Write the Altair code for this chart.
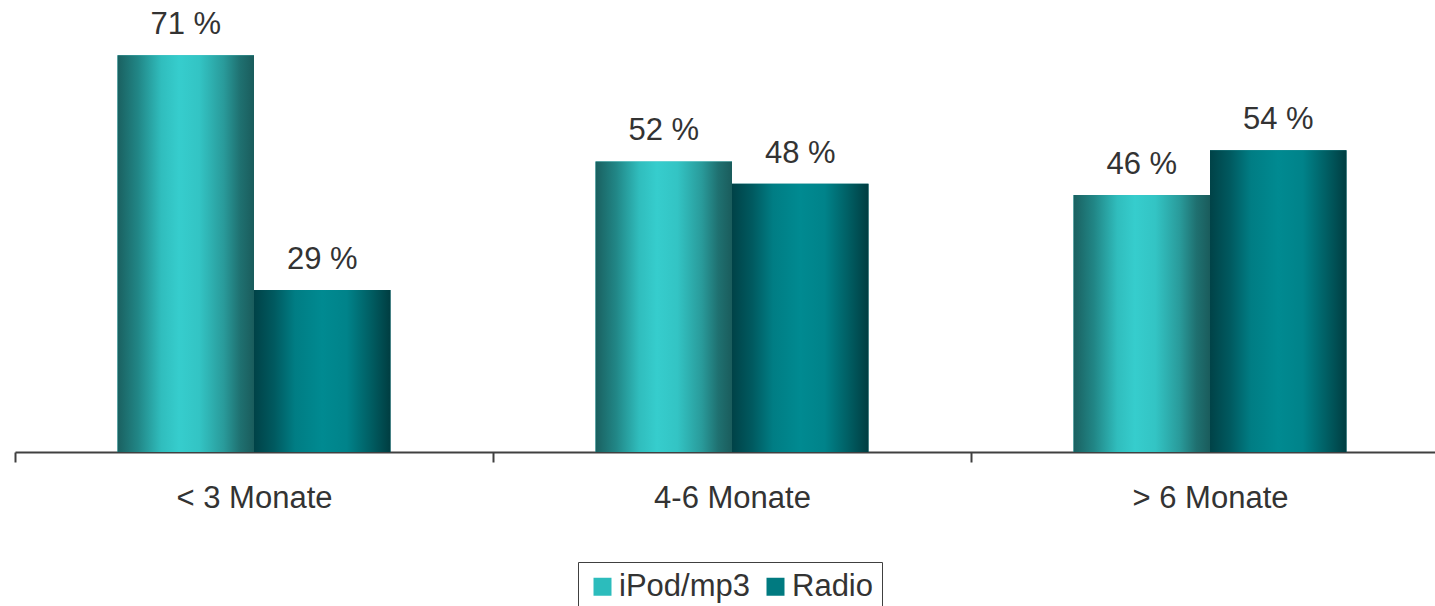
import altair as alt
import pandas as pd

categories = ["< 3 Monate", "4-6 Monate", "> 6 Monate"]
series = ["iPod/mp3", "Radio"]
ipod_values = [71, 52, 46]
radio_values = [29, 48, 54]

rows = []
for c, a, b in zip(categories, ipod_values, radio_values):
    rows.append({"cat": c, "series": series[0], "value": a})
    rows.append({"cat": c, "series": series[1], "value": b})
df = pd.DataFrame(rows)

FONT = "Liberation Sans"
TXT = "#333333"
LINE = "#404040"

ipod_grad = alt.LinearGradient(
    gradient="linear", x1=0, x2=1, y1=0, y2=0,
    stops=[
        alt.GradientStop(offset=0, color="#1a6060"),
        alt.GradientStop(offset=0.15, color="#218686"),
        alt.GradientStop(offset=0.32, color="#30bdbd"),
        alt.GradientStop(offset=0.45, color="#36cdcd"),
        alt.GradientStop(offset=0.6, color="#33c4c4"),
        alt.GradientStop(offset=0.78, color="#299a9a"),
        alt.GradientStop(offset=0.9, color="#1f7070"),
        alt.GradientStop(offset=1, color="#1a5c5c"),
    ],
)
radio_grad = alt.LinearGradient(
    gradient="linear", x1=0, x2=1, y1=0, y2=0,
    stops=[
        alt.GradientStop(offset=0, color="#004247"),
        alt.GradientStop(offset=0.15, color="#005a60"),
        alt.GradientStop(offset=0.3, color="#007d84"),
        alt.GradientStop(offset=0.5, color="#008a91"),
        alt.GradientStop(offset=0.68, color="#00838a"),
        alt.GradientStop(offset=0.85, color="#005f64"),
        alt.GradientStop(offset=1, color="#003d41"),
    ],
)

base = alt.Chart(df).transform_calculate(
    label="datum.value + ' %'"
).encode(
    x=alt.X(
        "cat:N",
        sort=categories,
        scale=alt.Scale(range=[0, 1434], paddingInner=0.429, paddingOuter=0.2145),
        axis=alt.Axis(
            title=None,
            labelAngle=0,
            labelFont=FONT,
            labelFontSize=31,
            labelColor=TXT,
            labelPadding=21,
            domainColor=LINE,
            domainWidth=2,
            tickColor=LINE,
            tickWidth=2,
            tickSize=10,
            tickOffset=-239,
            labelOffset=239,
        ),
    ),
    xOffset=alt.XOffset(
        "series:N",
        sort=series,
        scale=alt.Scale(domain=series, paddingInner=0, paddingOuter=0),
    ),
    y=alt.Y("value:Q", scale=alt.Scale(domain=[0, 80]), axis=None),
)

solid = base.mark_bar().encode(
    color=alt.Color(
        "series:N",
        sort=series,
        scale=alt.Scale(domain=series, range=["#2cbcbc", "#007a80"]),
        legend=alt.Legend(
            title=None,
            orient="none",
            legendX=563,
            legendY=557,
            direction="horizontal",
            symbolType="square",
            symbolSize=324,
            symbolStrokeWidth=0,
            symbolOpacity=1,
            labelFont=FONT,
            labelFontSize=31,
            labelColor=TXT,
            labelOffset=1,
            columnPadding=10,
            padding=9,
            strokeColor=LINE,
        ),
    )
)

g1 = base.transform_filter(alt.datum.series == series[0]).mark_bar(color=ipod_grad)
g2 = base.transform_filter(alt.datum.series == series[1]).mark_bar(color=radio_grad)

labels = base.mark_text(
    baseline="alphabetic", dy=-21, font=FONT, fontSize=31, color=TXT
).encode(text="label:N")

chart = alt.layer(solid, g1, g2, labels).properties(
    width=1420,
    height=447,
    autosize=alt.AutoSizeParams(type="none"),
    padding={"left": 15, "top": 5, "right": 0, "bottom": 154},
).configure(
    font=FONT,
    view=alt.ViewConfig(stroke="transparent", strokeWidth=0),
)

chart.save("out.html", embed_options={"renderer": "svg", "actions": False})
